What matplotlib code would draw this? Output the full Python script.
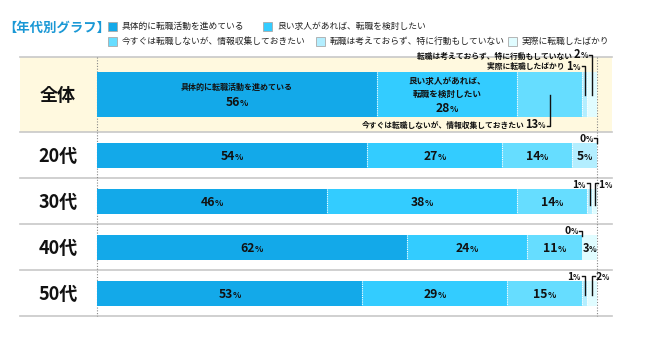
import numpy as np
import matplotlib
matplotlib.use("Agg")
import matplotlib.pyplot as plt
from matplotlib.patches import Rectangle

plt.rcParams['font.family'] = ['Noto Sans CJK JP', 'DejaVu Sans']

# ==========================================
# DATA
# ==========================================

ROWS = ['全体', '20代', '30代', '40代', '50代']
CATEGORIES = ['具体的に転職活動を進めている', '良い求人があれば、転職を検討したい',
              '今すぐは転職しないが、情報収集しておきたい',
              '転職は考えておらず、特に行動もしていない', '実際に転職したばかり']

# segments as drawn in each bar, left to right
SPECIFIC = [56, 54, 46, 62, 53]
GOOD_OFFER = [28, 27, 38, 24, 29]
INFO_ONLY = [13, 14, 14, 11, 15]
NO_PLAN = [1, 5, 1, 0, 1]
JUST_CHANGED = [2, 0, 1, 3, 2]

TITLE = '【年代別グラフ】'
COLORS = ['#13a9e9', '#33ccff', '#66ddff', '#b3eeff', '#e0fcff']

# ==========================================
# LAYOUT (pixels)
# ==========================================

W, H = 652, 337
ROW_Y = [94.5, 155.5, 201.5, 247.5, 293.5]
ROW_H = [45, 25, 25, 25, 25]
SEP_Y = [57, 132, 178, 224, 270, 316]
BAR_X0, BAR_X1 = 97, 597

fig = plt.figure(figsize=(W / 100, H / 100), dpi=100)
bg = fig.add_axes([0, 0, 1, 1])
bg.set_xlim(0, W)
bg.set_ylim(H, 0)
bg.axis('off')

ax = fig.add_axes([BAR_X0 / W, 0, (BAR_X1 - BAR_X0) / W, 1])
ax.set_xlim(0, 100)
ax.set_ylim(H, 0)
ax.axis('off')
ax.patch.set_alpha(0)

renderer = fig.canvas.get_renderer()


def pieces(axis, x, y, parts, ha='center', color='#111111'):
    # draw text pieces of different sizes on one baseline
    texts = [axis.annotate(s, (x, y), xytext=(0, 0), textcoords='offset pixels',
                           ha='left', va='baseline', fontsize=fs,
                           fontweight='bold', color=color, zorder=6,
                           annotation_clip=False)
             for s, fs in parts]
    widths = [t.get_window_extent(renderer).width for t in texts]
    total = sum(widths)
    start = {'left': 0, 'center': -total / 2, 'right': -total}[ha]
    for t, w in zip(texts, widths):
        t.xyann = (start, 0)
        start += w


def pct(value, big=8.8, small=6.2):
    return [(str(value), big), ('%', small)]


# ==========================================
# BACKGROUND, TITLE, LEGEND
# ==========================================

bg.add_patch(Rectangle((20, SEP_Y[0]), 592, SEP_Y[1] - SEP_Y[0],
                       facecolor='#fff9df', edgecolor='none', zorder=0))
for y in SEP_Y:
    bg.plot([20, 612], [y, y], color='#c8c8c8', lw=1.2, zorder=1)
for x in [BAR_X0, BAR_X1]:
    bg.plot([x, x], [SEP_Y[0], SEP_Y[-1]], color='#888888', lw=0.8,
            linestyle=(0, (1, 1.5)), zorder=1)

bg.text(3, 27.5, TITLE, fontsize=9.6, fontweight='bold', color='#1a98d5',
        ha='left', va='center')

legend_pos = [(108, 26), (263, 26), (108, 41), (316, 41), (508, 41)]
for (lx, ly), lab, col in zip(legend_pos, CATEGORIES, COLORS):
    bg.add_patch(Rectangle((lx, ly - 4.5), 9, 9, facecolor=col,
                           edgecolor='#aaaaaa', lw=0.6))
    bg.text(lx + 14, ly, lab, fontsize=6.3, ha='left', va='center',
            color='#222222')

for name, y in zip(ROWS, ROW_Y):
    bg.text(58, y + 1, name, fontsize=13, fontweight='bold', ha='center',
            va='center', color='#111111')

# ==========================================
# BARS
# ==========================================

series = np.array([SPECIFIC, GOOD_OFFER, INFO_ONLY, NO_PLAN, JUST_CHANGED])
lefts = np.vstack([np.zeros(len(ROWS)), np.cumsum(series, axis=0)[:-1]])

for k in range(len(series)):
    ax.barh(ROW_Y, series[k], left=lefts[k], height=ROW_H, color=COLORS[k],
            edgecolor='none', zorder=3)

# white dotted separators between segments
for i in range(len(ROWS)):
    for k in range(1, len(series)):
        if series[k, i] > 0 and series[k - 1, i] > 0:
            xb = lefts[k, i]
            ax.plot([xb, xb], [ROW_Y[i] - ROW_H[i] / 2, ROW_Y[i] + ROW_H[i] / 2],
                    color='white', lw=0.8, linestyle=(0, (1, 1)), zorder=4)

mids = lefts + series / 2

# ==========================================
# LABELS
# ==========================================

# overall row
pieces(ax, mids[0, 0], 90, [(CATEGORIES[0], 5.8)])
pieces(ax, mids[0, 0], 106, pct(SPECIFIC[0]))
pieces(ax, mids[1, 0], 84, [('良い求人があれば、', 6.2)])
pieces(ax, mids[1, 0], 96.5, [('転職を検討したい', 6.2)])
pieces(ax, mids[1, 0], 112, pct(GOOD_OFFER[0]))

PX = 100 / (BAR_X1 - BAR_X0)


def left_lead(i, k, y_hook, y_end, parts, y_text):
    xm = mids[k, i]
    ax.plot([xm - 3 * PX, xm, xm], [y_hook, y_hook, y_end], color='#111111',
            lw=1.0, zorder=6, clip_on=False)
    pieces(ax, xm - 4 * PX, y_text, parts, ha='right')


def right_lead(i, k, y_hook, y_end, parts, y_text):
    xm = mids[k, i]
    ax.plot([xm + 3 * PX, xm, xm], [y_hook, y_hook, y_end], color='#111111',
            lw=1.0, zorder=6, clip_on=False)
    pieces(ax, xm + 4 * PX, y_text, parts, ha='left')


left_lead(0, 2, 126, 95, [(CATEGORIES[2], 5.6)] + pct(INFO_ONLY[0], 8, 5.6), 127.5)
left_lead(0, 4, 55, 95, [(CATEGORIES[3] + ' ', 5.6)] + pct(JUST_CHANGED[0], 8, 5.6), 58.5)
left_lead(0, 3, 66, 95, [(CATEGORIES[4] + ' ', 5.6)] + pct(NO_PLAN[0], 8, 5.6), 69.5)

# age rows, segments 1-3 inside
for i in range(1, len(ROWS)):
    for k in range(3):
        pieces(ax, mids[k, i], ROW_Y[i] + 4.5, pct(series[k, i]))

# small segments
pieces(ax, mids[3, 1], ROW_Y[1] + 4.5, pct(NO_PLAN[1]))
left_lead(1, 4, 138, 143, pct(JUST_CHANGED[1], 7.5, 5.5), 142)
left_lead(2, 3, 183, 205, pct(NO_PLAN[2], 7.5, 5.5), 188)
right_lead(2, 4, 183, 205, pct(JUST_CHANGED[2], 7.5, 5.5), 188)
left_lead(3, 3, 231, 236, pct(NO_PLAN[3], 7.5, 5.5), 234.5)
pieces(ax, mids[4, 3], ROW_Y[3] + 4.5, pct(JUST_CHANGED[3], 8, 5.8))
left_lead(4, 3, 276, 295, pct(NO_PLAN[4], 7.5, 5.5), 280)
right_lead(4, 4, 276, 295, pct(JUST_CHANGED[4], 7.5, 5.5), 280)

fig.savefig('out.png', dpi=100)
